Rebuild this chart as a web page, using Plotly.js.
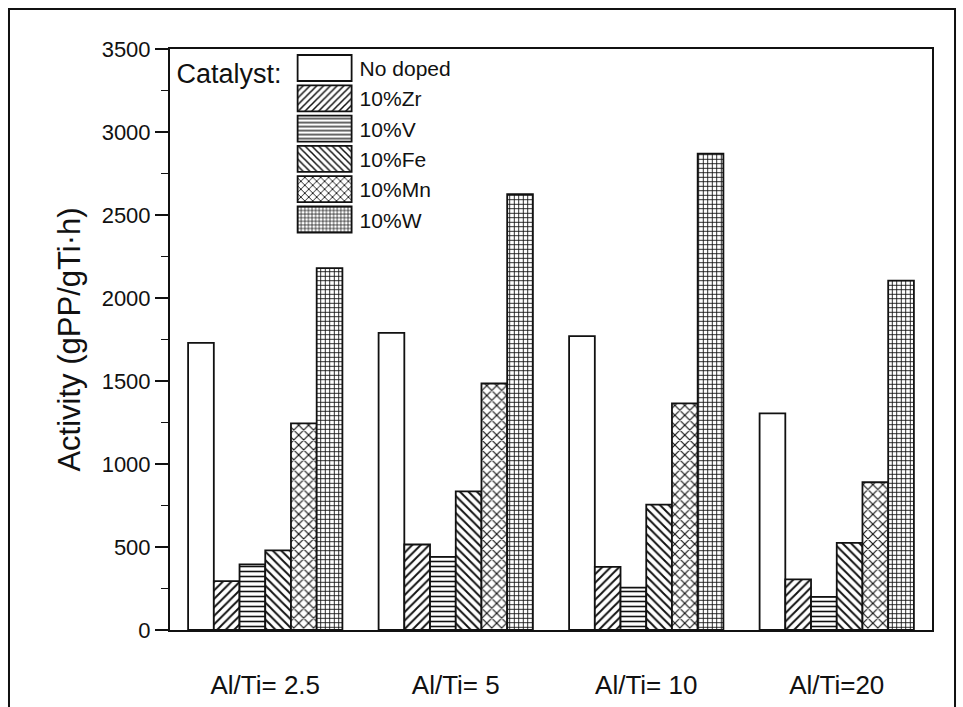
<!DOCTYPE html>
<html>
<head>
<meta charset="utf-8">
<script src="https://cdn.plot.ly/plotly-3.0.1.min.js"></script>
<style>html,body{margin:0;padding:0;background:#fff;}#chart{width:963px;height:707px;}</style>
</head>
<body>
<div id="chart"></div>
<script>
const categories = ["Al/Ti= 2.5", "Al/Ti= 5", "Al/Ti= 10", "Al/Ti=20"];
const seriesNames = ["No doped", "10%Zr", "10%V", "10%Fe", "10%Mn", "10%W"];
const noDoped = [1730, 1790, 1770, 1305];
const zr = [295, 515, 380, 305];
const v = [395, 440, 255, 200];
const fe = [480, 835, 755, 525];
const mn = [1245, 1485, 1365, 890];
const w = [2180, 2625, 2870, 2105];
const yTicks = [0, 500, 1000, 1500, 2000, 2500, 3000, 3500];

const seriesValues = [noDoped, zr, v, fe, mn, w];
const shapes = ["", "/", "-", "\\", "x", "+"];
const sizes = [8, 6, 5, 6, 7, 4.5];
const solid = [0.3, 0.32, 0.32, 0.32, 0.3, 0.35];

const traces = seriesValues.map((vals, i) => ({
  type: "bar",
  name: seriesNames[i],
  x: categories,
  y: vals,
  marker: {
    color: "#ffffff",
    line: {color: "#111", width: 1.8},
    pattern: {shape: shapes[i], fgcolor: "#111", bgcolor: "#ffffff", size: sizes[i], solidity: solid[i]}
  }
}));

const FONT = "Liberation Sans, Arial, sans-serif";
const layout = {
  width: 963, height: 707,
  margin: {l: 170, r: 31, t: 49, b: 77},
  paper_bgcolor: "#fff", plot_bgcolor: "#fff",
  barmode: "group", bargap: 0.19, bargroupgap: 0,
  font: {family: FONT, color: "#111"},
  showlegend: true,
  legend: {
    x: 0.006, y: 1.002, xanchor: "left", yanchor: "top",
    bgcolor: "rgba(0,0,0,0)", borderwidth: 0,
    font: {family: FONT, size: 21, color: "#111"},
    title: {text: "Catalyst:", side: "left", font: {family: FONT, size: 27, color: "#111"}},
    itemwidth: 60, tracegroupgap: 0, traceorder: "normal"
  },
  xaxis: {
    type: "category",
    range: [-0.5, 3.5],
    showline: true, mirror: true, linecolor: "#111", linewidth: 2,
    ticks: "", showgrid: false, zeroline: false,
    tickfont: {family: FONT, size: 26, color: "#111"},
    ticklabelstandoff: 31
  },
  yaxis: {
    range: [0, 3500],
    tickvals: yTicks,
    ticktext: yTicks.map(String),
    showline: true, mirror: true, linecolor: "#111", linewidth: 2,
    ticks: "outside", ticklen: 13, tickwidth: 2, tickcolor: "#111",
    minor: {dtick: 250, ticks: "outside", ticklen: 7, tickwidth: 1.5, tickcolor: "#111"},
    showgrid: false, zeroline: false,
    tickfont: {family: FONT, size: 22, color: "#111"},
    title: {text: "Activity (gPP/gTi·h)", font: {family: FONT, size: 31, color: "#111"}, standoff: 12}
  },
  shapes: [{
    type: "path", xref: "paper", yref: "paper",
    path: "M -0.2113,-0.2 L -0.2113,1.0688 L 1.0302,1.0688 L 1.0302,-0.2",
    line: {color: "#111", width: 2}
  }]
};

Plotly.newPlot("chart", traces, layout, {staticPlot: true}).then(() => {
  document.querySelectorAll("#chart .legend .legendpoints path").forEach(p => {
    p.setAttribute("d", "M27,13H-27V-13H27Z");
  });
});
</script>
</body>
</html>
